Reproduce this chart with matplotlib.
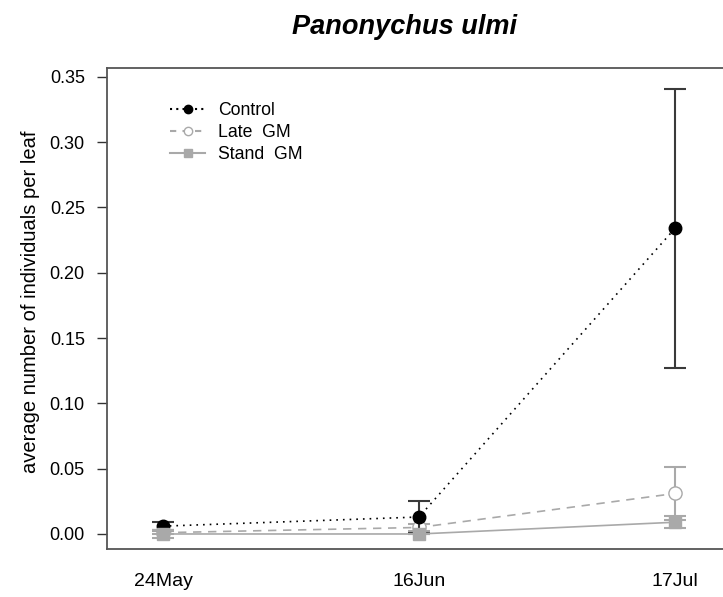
import matplotlib.pyplot as plt
from matplotlib.lines import Line2D

plt.rcParams["font.family"] = ["Liberation Sans", "DejaVu Sans"]

# sampling dates, plotted as equally spaced categories
date_labels = ["24May", "16Jun", "17Jul"]
positions = [1, 2, 3]

control = [0.006, 0.013, 0.234]
control_err = [0.003, 0.012, 0.107]
late_gm = [0.001, 0.005, 0.031]
late_gm_err = [0.001, 0.003, 0.020]
stand_gm = [0.000, 0.000, 0.009]
stand_gm_err = [0.003, 0.000, 0.0045]

series_names = ["Control", "Late  GM", "Stand  GM"]

fig = plt.figure(figsize=(7.23, 5.97), dpi=100)
ax = fig.add_axes([0.148, 0.0804, 0.867, 0.8057])

grey = "#a9a9a9"
ax.errorbar(positions, late_gm, yerr=late_gm_err, color=grey, linestyle=(0, (5, 4)),
            linewidth=1.2, marker="o", markersize=9.5, markerfacecolor="white",
            capsize=8, elinewidth=1.5, capthick=1.5, zorder=3)
ax.errorbar(positions, control, yerr=control_err, color="black", ecolor="#3a3a3a",
            linestyle=(0, (1, 3)), linewidth=1.2, marker="o", markersize=9,
            capsize=8, elinewidth=1.5, capthick=1.5, zorder=4)
# stand GM sits on top of the others, as in the original figure
ax.errorbar(positions, stand_gm, yerr=stand_gm_err, color=grey, linestyle="-",
            linewidth=1.2, marker="s", markersize=9, capsize=8, elinewidth=1.5,
            capthick=1.5, zorder=5)

ax.set_xlim(0.781, 3.23)
ax.set_ylim(-0.0115, 0.3568)
yticks = [0, 0.05, 0.10, 0.15, 0.20, 0.25, 0.30, 0.35]
ax.set_yticks(yticks)
ax.set_yticklabels([f"{v:.2f}" for v in yticks], fontsize=13)
ax.set_xticks(positions)
ax.set_xticklabels(date_labels, fontsize=14)
ax.tick_params(axis="x", length=0, pad=17)
ax.tick_params(axis="y", length=7, width=1, color="#333333", pad=9)
for s in ax.spines.values():
    s.set_color("#555555")
    s.set_linewidth(1.3)

fig.text(0.042, 0.495, "average number of individuals per leaf", fontsize=14.5,
         rotation=90, ha="center", va="center")
fig.text(0.560, 0.955, "Panonychus ulmi", fontsize=19.5, fontweight="bold",
         fontstyle="italic", ha="center", va="center")

handles = [
    Line2D([], [], color="black", linestyle=(0, (1, 2)), marker="o", markersize=6),
    Line2D([], [], color=grey, linestyle=(0, (3, 3)), marker="o", markersize=6,
           markerfacecolor="white"),
    Line2D([], [], color=grey, linestyle="-", marker="s", markersize=6),
]
ax.legend(handles, series_names, loc="upper left", frameon=False,
          bbox_to_anchor=(0.075, 0.962), fontsize=12.7, handlelength=2.0,
          handletextpad=0.75, labelspacing=0.28)

fig.savefig("out.png", dpi=100)
